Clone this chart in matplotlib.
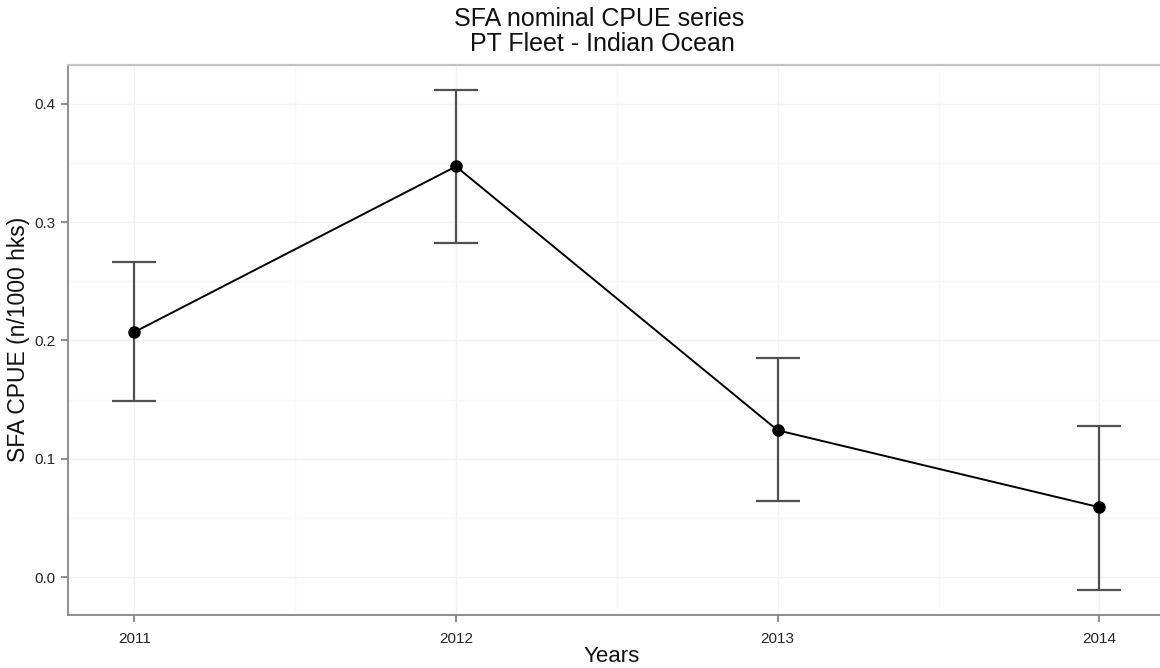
import matplotlib
matplotlib.use("Agg")
import matplotlib.pyplot as plt
from matplotlib.ticker import MultipleLocator, FixedLocator, FormatStrFormatter

plt.rcParams['font.family'] = ['Liberation Sans', 'DejaVu Sans']

# Nominal CPUE by year with confidence limits
years = [2011, 2012, 2013, 2014]
cpue = [0.207, 0.347, 0.124, 0.059]
lower = [0.149, 0.282, 0.064, -0.011]
upper = [0.266, 0.412, 0.185, 0.128]

W, H = 1160, 668
fig = plt.figure(figsize=(W / 100, H / 100), dpi=100)

# panel in pixel coordinates (right edge runs slightly past the canvas)
left_px, right_px, top_px, bottom_px = 68.3, 1165.3, 64.7, 614.9
pw, ph = right_px - left_px, bottom_px - top_px
ax = fig.add_axes([left_px / W, (H - bottom_px) / H, pw / W, ph / H])

ax.set_xlim(2010.795, 2014.205)
ax.set_ylim(-0.032, 0.433)

# grid
ax.xaxis.set_major_locator(FixedLocator(years))
ax.xaxis.set_minor_locator(FixedLocator([y + 0.5 for y in years[:-1]]))
ax.yaxis.set_major_locator(MultipleLocator(0.1))
ax.yaxis.set_minor_locator(MultipleLocator(0.05))
ax.yaxis.set_major_formatter(FormatStrFormatter('%.1f'))
ax.grid(which='major', color='#f2f2f2', linewidth=1.0)
ax.grid(which='minor', color='#f8f8f8', linewidth=1.0)
ax.set_axisbelow(True)

# error bars and series
err_lo = [c - l for c, l in zip(cpue, lower)]
err_hi = [u - c for c, u in zip(cpue, upper)]
ax.errorbar(years, cpue, yerr=[err_lo, err_hi], fmt='none',
            ecolor='#505050', elinewidth=1.6, capsize=15.5, capthick=1.6,
            zorder=2)
ax.plot(years, cpue, color='black', linewidth=1.4, zorder=3)
ax.plot(years, cpue, 'o', color='black', markersize=8, zorder=4)

for s in ['left', 'bottom']:
    ax.spines[s].set_color('#868686')
    ax.spines[s].set_linewidth(1.3)
ax.spines['top'].set_color('#c4c4c4')
ax.spines['top'].set_linewidth(1.6)
ax.spines['right'].set_color('#c4c4c4')

ax.tick_params(which='major', length=5, width=1.3, color='#868686',
               labelsize=11, labelcolor='#262626', pad=4.5)
ax.tick_params(axis='x', which='major', pad=7)
ax.tick_params(which='minor', length=0)

ax.set_xlabel('Years', fontsize=16, color='#111111')
ax.xaxis.label.set_va('center')
ax.xaxis.set_label_coords((612 - left_px) / pw, (bottom_px - 657) / ph)

ax.set_ylabel('SFA CPUE (n/1000 hks)', fontsize=16.5, color='#111111')
ax.yaxis.label.set_va('center')
ax.yaxis.set_label_coords((19 - left_px) / pw, 0.5)

fig.text(599 / W, 1 - 31.5 / H, 'SFA nominal CPUE series\n PT Fleet - Indian Ocean',
         ha='center', va='center', fontsize=18, linespacing=1.08,
         color='#111111')

fig.savefig('out.png', dpi=100)
